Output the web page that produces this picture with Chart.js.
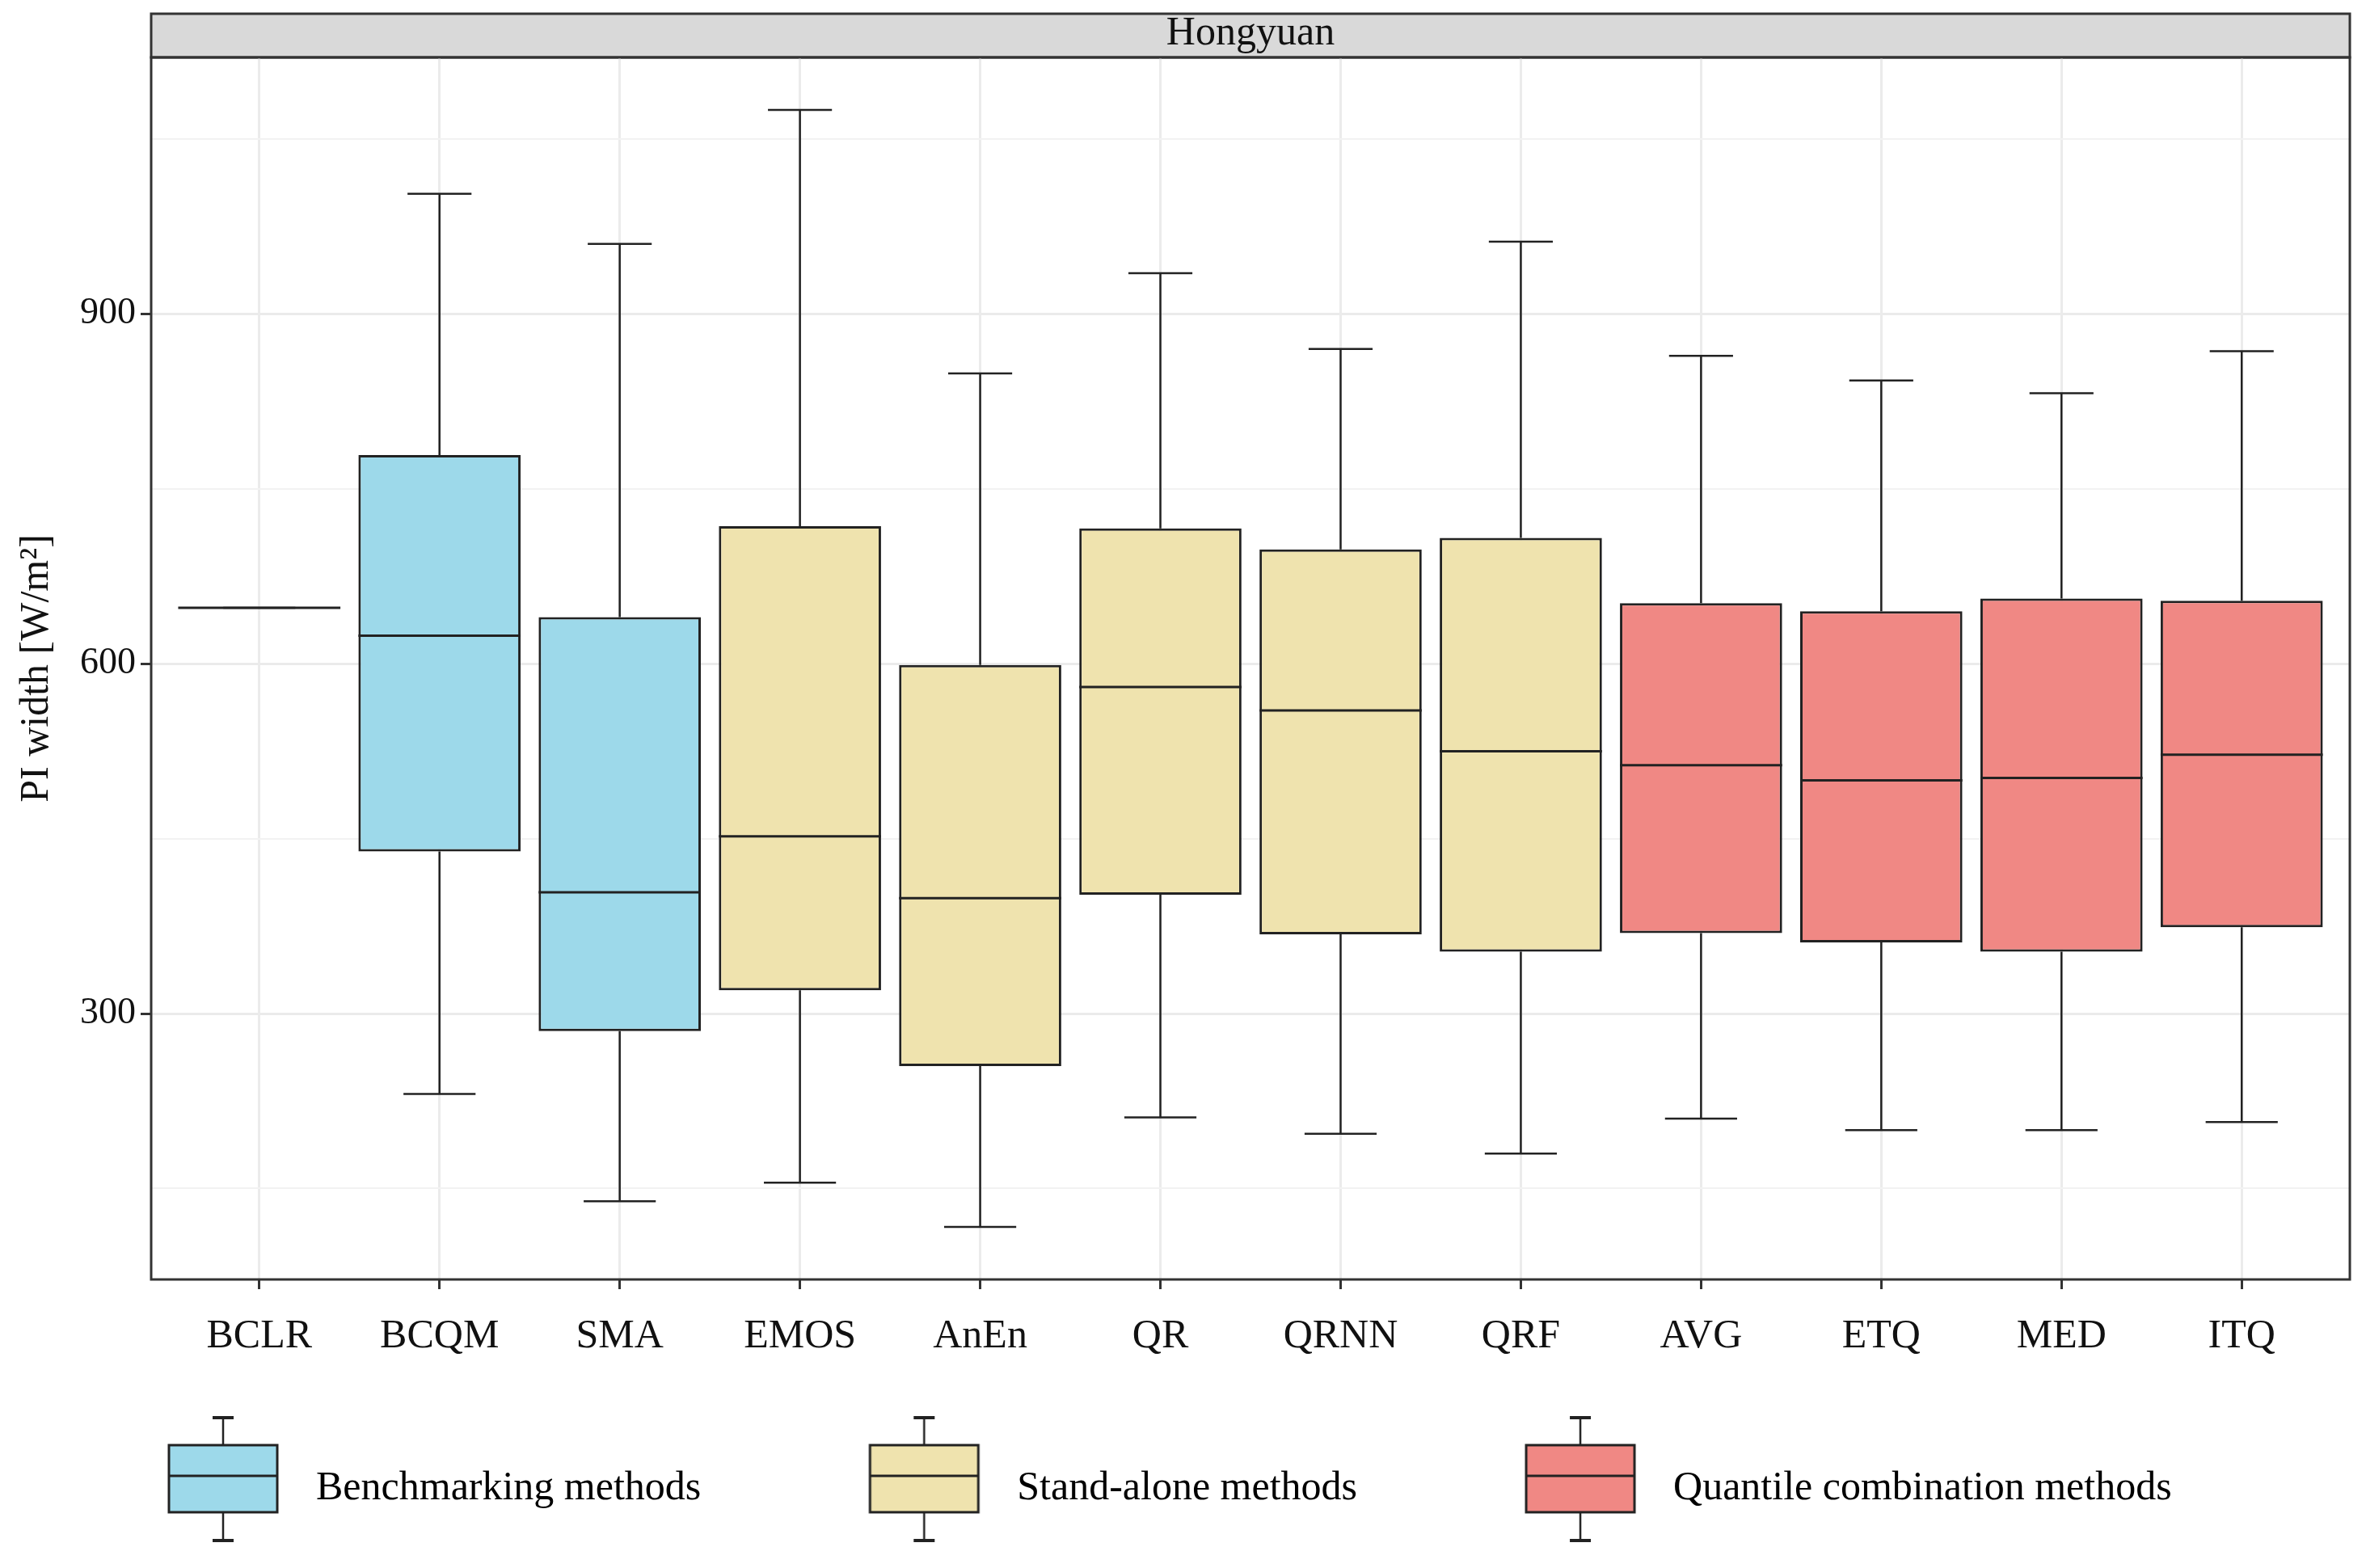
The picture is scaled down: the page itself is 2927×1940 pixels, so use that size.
<!DOCTYPE html>
<html>
<head>
<meta charset="utf-8">
<title>Hongyuan PI width</title>
<script src="https://cdn.jsdelivr.net/npm/chart.js@4.4.0/dist/chart.umd.min.js"></script>
<style>
  html, body { margin: 0; padding: 0; background: #ffffff; }
  canvas { display: block; }
</style>
</head>
<body>
<canvas id="chart" width="2927" height="1940"></canvas>
<script>
// ---- data ----
const categories = ['BCLR', 'BCQM', 'SMA', 'EMOS', 'AnEn', 'QR', 'QRNN', 'QRF', 'AVG', 'ETQ', 'MED', 'ITQ'];
const groupOf = [0, 0, 0, 1, 1, 1, 1, 1, 2, 2, 2, 2];   // which legend group each method is in
const groupNames = ['Benchmarking methods', 'Stand-alone methods', 'Quantile combination methods'];

const whiskerLow  = [648, 231, 139, 155, 117, 211, 197, 180, 210, 200, 200, 207];
const lowerQ      = [648, 439, 285, 320, 255, 402, 368, 353, 369, 361, 353, 374];
const medianVal   = [648, 624, 404, 452, 399, 580, 560, 525, 513, 500, 502, 522];
const upperQ      = [648, 779, 640, 718, 599, 716, 698, 708, 652, 645, 656, 654];
const whiskerHigh = [648, 1003, 960, 1075, 849, 935, 870, 962, 864, 843, 832, 868];

const yMajorTicks = [300, 600, 900];
const yMinorTicks = [150, 450, 750, 1050];

// ---- styling ----
const groupColors = ['#9DD9EA', '#EFE3AE', '#F08884'];
const lineColor = '#222222';
const gridColor = '#EBEBEB';
const frameColor = '#333333';
const serif = '"Liberation Serif", "Times New Roman", serif';

const legendSymbolWidth = 242;   // room kept for each legend symbol
const legendGap = 124;           // legend padding

// small boxplot glyph used as the legend symbol, sitting at the right end of its slot
function makeGlyph(color) {
  const c = document.createElement('canvas');
  c.width = legendSymbolWidth - 40;
  c.height = 184;
  const g = c.getContext('2d');
  const right = c.width - 3;
  const left = right - 134;
  const cx = (left + right) / 2;
  g.strokeStyle = lineColor;
  g.lineWidth = 2.5;
  g.beginPath();
  g.moveTo(cx, 4); g.lineTo(cx, 38);
  g.moveTo(cx, 121); g.lineTo(cx, 156);
  g.stroke();
  g.lineWidth = 4;
  g.beginPath();
  g.moveTo(cx - 13, 4); g.lineTo(cx + 13, 4);
  g.moveTo(cx - 13, 156); g.lineTo(cx + 13, 156);
  g.stroke();
  g.fillStyle = color;
  g.fillRect(left, 38, 134, 83);
  g.lineWidth = 3;
  g.strokeRect(left, 38, 134, 83);
  g.beginPath();
  g.moveTo(left, 76); g.lineTo(right, 76);
  g.stroke();
  return c;
}

// whiskers + caps behind the boxes, medians on top
const boxParts = {
  id: 'boxParts',
  beforeDatasetsDraw(chart) {
    const {ctx, scales: {x, y}} = chart;
    const step = x.getPixelForValue(1) - x.getPixelForValue(0);
    ctx.save();
    ctx.strokeStyle = lineColor;
    ctx.lineWidth = 2.5;
    categories.forEach((c, i) => {
      const px = x.getPixelForValue(i);
      const hi = y.getPixelForValue(whiskerHigh[i]);
      const lo = y.getPixelForValue(whiskerLow[i]);
      const capHi = step * 0.355 / 2;
      const capLo = step * 0.4 / 2;
      ctx.beginPath();
      ctx.moveTo(px, y.getPixelForValue(upperQ[i])); ctx.lineTo(px, hi);
      ctx.moveTo(px, y.getPixelForValue(lowerQ[i])); ctx.lineTo(px, lo);
      ctx.moveTo(px - capHi, hi); ctx.lineTo(px + capHi, hi);
      ctx.moveTo(px - capLo, lo); ctx.lineTo(px + capLo, lo);
      ctx.stroke();
    });
    ctx.restore();
  },
  afterDatasetsDraw(chart) {
    const {ctx, scales: {y}} = chart;
    const bars = chart.getDatasetMeta(0).data;
    ctx.save();
    ctx.strokeStyle = lineColor;
    ctx.lineWidth = 3;
    bars.forEach((bar, i) => {
      const py = y.getPixelForValue(medianVal[i]);
      ctx.beginPath();
      ctx.moveTo(bar.x - bar.width / 2, py);
      ctx.lineTo(bar.x + bar.width / 2, py);
      ctx.stroke();
    });
    ctx.restore();
  }
};

// facet strip behind the title, the panel border, and extra legend room for the tall symbols
const panelFrame = {
  id: 'panelFrame',
  afterInit(chart) {
    const legend = chart.legend;
    const fit = legend.fit;
    legend.fit = function () {
      fit.call(this);
      this.height += 40;
    };
  },
  beforeDraw(chart) {
    const {ctx, chartArea: a} = chart;
    const t = chart.titleBlock;
    ctx.save();
    ctx.fillStyle = '#D9D9D9';
    ctx.fillRect(a.left, t.top, a.right - a.left, a.top - t.top);
    ctx.strokeStyle = frameColor;
    ctx.lineWidth = 3;
    ctx.strokeRect(a.left, t.top, a.right - a.left, a.top - t.top);
    ctx.restore();
  },
  afterDraw(chart) {
    const {ctx, chartArea: a} = chart;
    ctx.save();
    ctx.strokeStyle = frameColor;
    ctx.lineWidth = 3;
    ctx.strokeRect(a.left, a.top, a.right - a.left, a.bottom - a.top);
    ctx.restore();
  }
};

const boxData = categories.map((c, i) => ({x: i, y: [lowerQ[i], upperQ[i]]}));

new Chart(document.getElementById('chart'), {
  type: 'bar',
  data: {
    datasets: [{
      data: boxData,
      backgroundColor: groupOf.map(g => groupColors[g]),
      borderColor: lineColor,
      borderWidth: 3,
      borderSkipped: false,
      barPercentage: 0.9,
      categoryPercentage: 1.0
    }]
  },
  plugins: [boxParts, panelFrame],
  options: {
    responsive: false,
    devicePixelRatio: 1,
    animation: false,
    layout: { padding: { left: 0, right: 20, top: 17, bottom: 23 } },
    scales: {
      x: {
        type: 'linear',
        min: -0.6,
        max: 11.6,
        offset: false,
        afterBuildTicks: (scale) => { scale.ticks = categories.map((c, i) => ({value: i})); },
        afterFit: (scale) => { scale.height = 110; },
        ticks: {
          callback: (v) => categories[v],
          autoSkip: false,
          maxRotation: 0,
          padding: 34,
          color: '#111111',
          font: { family: serif, size: 50, lineHeight: 1 }
        },
        grid: { offset: false, color: gridColor, lineWidth: 3, tickColor: frameColor, tickWidth: 3, tickLength: 12 },
        border: { display: false }
      },
      y: {
        min: 72,
        max: 1120,
        afterBuildTicks: (scale) => {
          scale.ticks = yMinorTicks.concat(yMajorTicks).sort((a, b) => a - b).map(v => ({value: v}));
        },
        afterFit: (scale) => { scale.width = 187; },
        ticks: {
          callback: (v) => yMajorTicks.includes(v) ? String(v) : '',
          padding: 6,
          color: '#111111',
          font: { family: serif, size: 46, lineHeight: 1 }
        },
        grid: {
          color: (ctx) => yMajorTicks.includes(ctx.tick.value) ? gridColor : '#F2F2F2',
          lineWidth: (ctx) => yMajorTicks.includes(ctx.tick.value) ? 3 : 2,
          tickColor: (ctx) => yMajorTicks.includes(ctx.tick.value) ? frameColor : 'rgba(0,0,0,0)',
          tickWidth: 3,
          tickLength: 13
        },
        border: { display: false },
        title: {
          display: true,
          text: 'PI width [W/m²]',
          color: '#111111',
          padding: { top: 21, bottom: 0 },
          font: { family: serif, size: 50, lineHeight: 1 }
        }
      }
    },
    plugins: {
      tooltip: { enabled: false },
      title: {
        display: true,
        text: 'Hongyuan',
        fullSize: false,
        color: '#111111',
        padding: { top: 0, bottom: 4 },
        font: { family: serif, size: 50, weight: 'normal', lineHeight: 1 }
      },
      legend: {
        display: true,
        position: 'bottom',
        align: 'start',
        labels: {
          usePointStyle: true,
          pointStyleWidth: legendSymbolWidth,
          padding: legendGap,
          color: '#111111',
          font: { family: serif, size: 50 },
          generateLabels: () => groupNames.map((name, g) => ({
            text: name,
            pointStyle: makeGlyph(groupColors[g]),
            fillStyle: groupColors[g],
            strokeStyle: lineColor,
            lineWidth: 0,
            hidden: false,
            datasetIndex: 0
          }))
        }
      }
    }
  }
});
</script>
</body>
</html>
